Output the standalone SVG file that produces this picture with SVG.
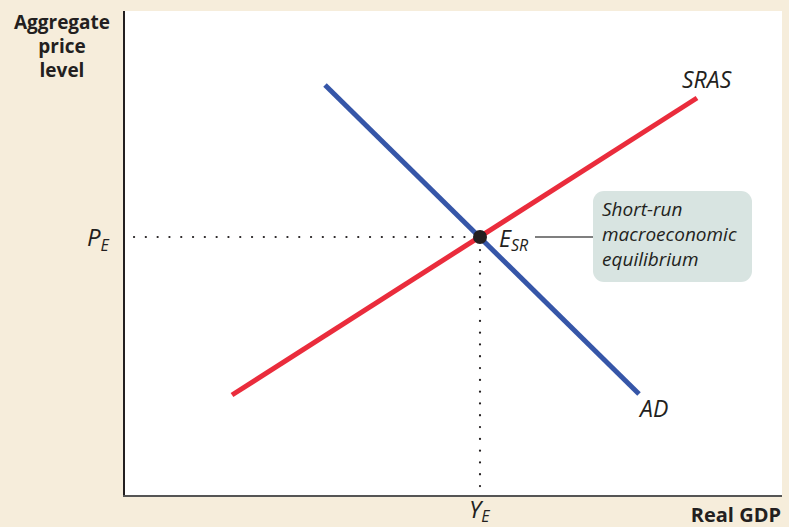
<svg xmlns="http://www.w3.org/2000/svg" width="789" height="527" viewBox="0 0 789 527">
<style>
.lbl{font-family:"Open Sans","Liberation Sans",sans-serif;font-style:italic;fill:#231f20;}
.bold{font-family:"Open Sans","Liberation Sans",sans-serif;font-weight:bold;fill:#231f20;}
.dot{stroke:#231f20;stroke-width:2.2;stroke-dasharray:0.1 11.7;stroke-linecap:round;fill:none;}
</style>
<rect x="0" y="0" width="789" height="527" fill="#f6eddb"/>
<rect x="124" y="11" width="658" height="485" fill="#ffffff"/>
<g id="axes">
<line x1="124" y1="11" x2="124" y2="497" stroke="#231f20" stroke-width="2"/>
<line x1="123" y1="496" x2="782" y2="496" stroke="#555" stroke-width="2"/>
</g>
<g id="connectors">
<line class="dot" x1="134" y1="237" x2="470" y2="237"/>
<line class="dot" x1="480" y1="250" x2="480" y2="490"/>
<line x1="535" y1="237" x2="593" y2="237" stroke="#555" stroke-width="1.3"/>
</g>
<g id="SRAS">
<line x1="232" y1="395" x2="697" y2="98" stroke="#ea2c3c" stroke-width="5"/>
<text class="lbl" x="682" y="88" font-size="23">SRAS</text>
</g>
<g id="AD">
<line x1="325" y1="85" x2="639" y2="394" stroke="#3656a8" stroke-width="5"/>
<text class="lbl" x="640" y="417" font-size="23">AD</text>
</g>
<g id="equilibrium">
<circle cx="480" cy="237" r="7" fill="#231f20"/>
<text class="lbl" x="499" y="247" font-size="23">E<tspan font-size="16" dy="4">SR</tspan></text>
</g>
<g id="note">
<rect x="593" y="191" width="159" height="91" rx="11" fill="#d8e4e1"/>
<text class="lbl" font-size="19"><tspan x="602" y="216">Short-run</tspan><tspan x="602" y="241">macroeconomic</tspan><tspan x="602" y="266">equilibrium</tspan></text>
</g>
<g id="ylabel">
<text class="bold" font-size="19" text-anchor="middle" x="62" y="29">Aggregate</text>
<text class="bold" font-size="19" text-anchor="middle" x="62" y="53">price</text>
<text class="bold" font-size="19" text-anchor="middle" x="62" y="77">level</text>
</g>
<text class="lbl" x="87" y="246" font-size="24">P<tspan font-size="16" dy="5">E</tspan></text>
<text class="lbl" x="469" y="518" font-size="24">Y<tspan font-size="16" dy="4">E</tspan></text>
<text class="bold" x="781" y="522" font-size="20" text-anchor="end">Real GDP</text>
</svg>
